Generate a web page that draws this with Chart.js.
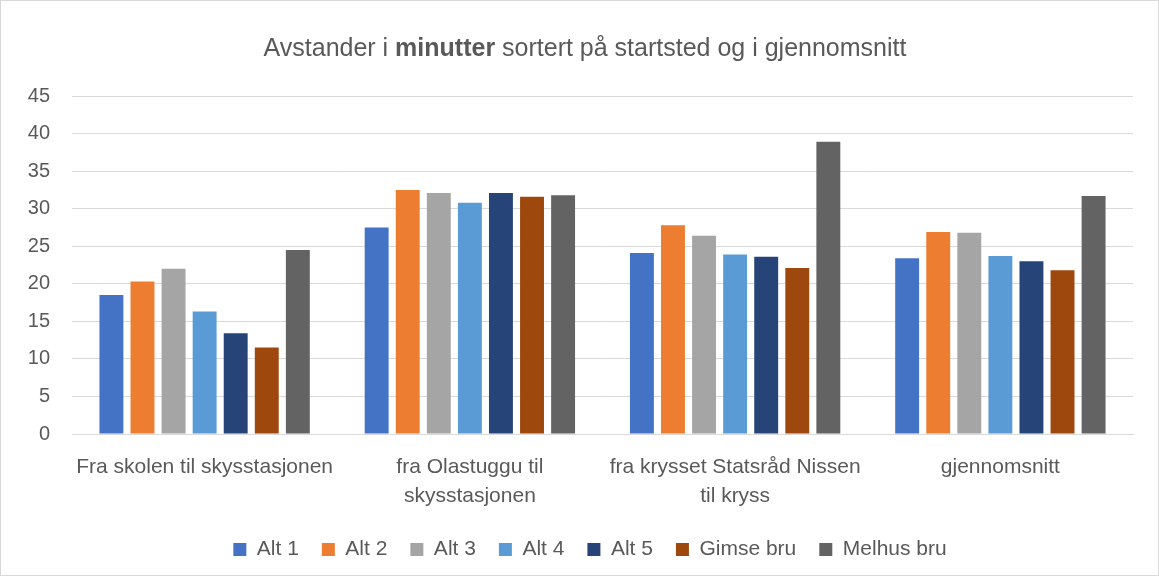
<!DOCTYPE html>
<html>
<head>
<meta charset="utf-8">
<script src="https://cdn.jsdelivr.net/npm/chart.js@4.4.1/dist/chart.umd.min.js"></script>
<style>
  html, body { margin: 0; padding: 0; background: #fff; }
  #wrap { width: 1159px; height: 576px; box-sizing: border-box; border: 1px solid #d9d9d9; position: relative; }
  canvas { display: block; }
</style>
</head>
<body>
<div id="wrap"><canvas id="c" width="1157" height="574"></canvas></div>
<script>
// chart data
var categories = [
  "Fra skolen til skysstasjonen",
  ["fra Olastuggu til", "skysstasjonen"],
  ["fra krysset Statsråd Nissen", "til kryss"],
  "gjennomsnitt"
];
var seriesNames = ["Alt 1", "Alt 2", "Alt 3", "Alt 4", "Alt 5", "Gimse bru", "Melhus bru"];
var alt1 = [18.5, 27.5, 24.1, 23.4];
var alt2 = [20.3, 32.5, 27.8, 26.9];
var alt3 = [22.0, 32.1, 26.4, 26.8];
var alt4 = [16.3, 30.8, 23.9, 23.7];
var alt5 = [13.4, 32.1, 23.6, 23.0];
var gimse = [11.5, 31.6, 22.1, 21.8];
var melhus = [24.5, 31.8, 38.9, 31.7];
var yTicks = [0, 5, 10, 15, 20, 25, 30, 35, 40, 45];

var colors = ["#4472C4", "#ED7D31", "#A5A5A5", "#5B9BD5", "#264478", "#9E480E", "#636363"];
var values = [alt1, alt2, alt3, alt4, alt5, gimse, melhus];
var FONT = "'Liberation Sans', Arial, sans-serif";
var TXT = "#595959";

var datasets = [];
for (var i = 0; i < seriesNames.length; i++) {
  datasets.push({
    label: seriesNames[i],
    data: values[i],
    backgroundColor: colors[i],
    borderWidth: 0,
    categoryPercentage: 0.82,
    barPercentage: 0.77
  });
}

// title with one bold word
var titlePlugin = {
  id: "mixedTitle",
  afterLayout: function (chart) {
    // nudge legend a bit to the right, like the original
    var lg = chart.legend;
    if (lg) { lg.left += 23; lg.right += 23; }
  },
  afterDraw: function (chart) {
    var ctx = chart.ctx;
    var parts = [
      ["Avstander i ", "normal"],
      ["minutter", "bold"],
      [" sortert på startsted og i gjennomsnitt", "normal"]
    ];
    var size = 25;
    var total = 0;
    parts.forEach(function (p) {
      ctx.font = p[1] + " " + size + "px " + FONT;
      total += ctx.measureText(p[0]).width;
    });
    var x = 584 - total / 2;
    ctx.save();
    ctx.fillStyle = TXT;
    ctx.textBaseline = "middle";
    ctx.textAlign = "left";
    parts.forEach(function (p) {
      ctx.font = p[1] + " " + size + "px " + FONT;
      ctx.fillText(p[0], x, 48);
      x += ctx.measureText(p[0]).width;
    });
    ctx.restore();
  }
};

new Chart(document.getElementById("c"), {
  type: "bar",
  data: { labels: categories, datasets: datasets },
  plugins: [titlePlugin],
  options: {
    responsive: false,
    animation: false,
    layout: { padding: { top: 95, right: 25, bottom: 5, left: 0 } },
    plugins: {
      title: { display: false },
      tooltip: { enabled: false },
      legend: {
        position: "bottom",
        labels: {
          color: TXT,
          font: { family: FONT, size: 21 },
          boxWidth: 13,
          boxHeight: 13,
          padding: 23
        }
      }
    },
    scales: {
      x: {
        grid: { display: false },
        border: { display: true, color: "#d9d9d9" },
        ticks: {
          color: TXT,
          font: { family: FONT, size: 21, lineHeight: 1.38 },
          maxRotation: 0,
          autoSkip: false,
          padding: 11
        },
        afterFit: function (s) { s.height = 82; }
      },
      y: {
        min: 0,
        max: 45,
        afterBuildTicks: function (s) {
          s.ticks = yTicks.map(function (v) { return { value: v }; });
        },
        grid: { color: "#d9d9d9", drawTicks: false },
        border: { display: false },
        ticks: {
          color: TXT,
          font: { family: FONT, size: 20 },
          padding: 22
        },
        afterFit: function (s) { s.width = 71; }
      }
    }
  }
});
</script>
</body>
</html>
